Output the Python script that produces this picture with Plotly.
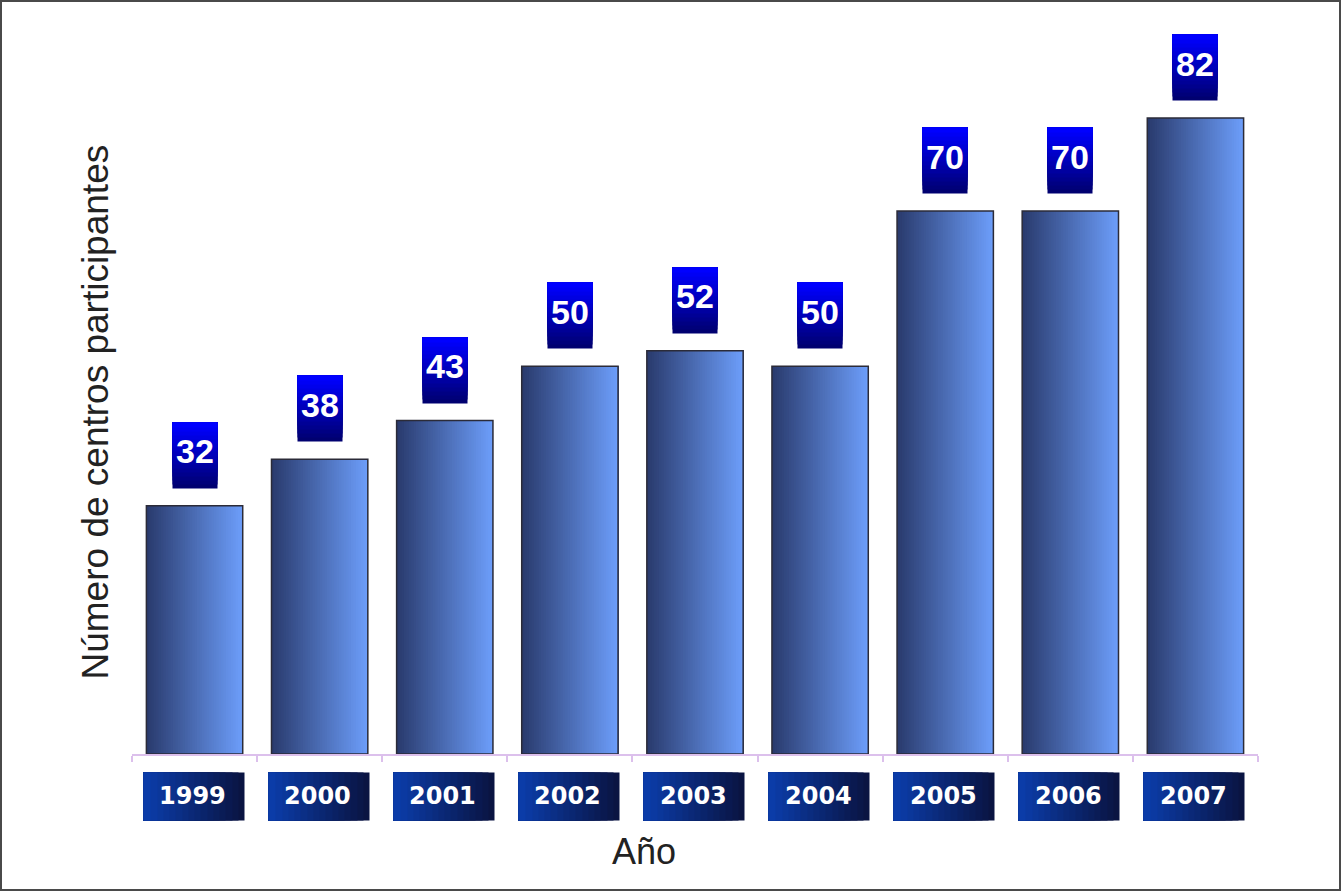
import plotly.graph_objects as go

years = ["1999", "2000", "2001", "2002", "2003", "2004", "2005", "2006", "2007"]
centros = [32, 38, 43, 50, 52, 50, 70, 70, 82]

y_title = "Número de centros participantes"
x_title = "Año"


def mix(c1, c2, t):
    a = [int(c1[i:i + 2], 16) for i in (1, 3, 5)]
    b = [int(c2[i:i + 2], 16) for i in (1, 3, 5)]
    return "rgb(%d,%d,%d)" % tuple(round(a[k] + (b[k] - a[k]) * t) for k in range(3))


W, H = 1341, 891
ml, mr, mt, mb = 132, 83, 56, 137
pw, ph = W - ml - mr, H - mt - mb

fig = go.Figure()

# bars: horizontal gradient, each layer runs from its start to the right edge of the bar
bw = 0.77
steps = 40
for i in range(steps):
    start = bw * i / steps
    fig.add_trace(go.Bar(x=years, y=centros, width=bw - start, offset=-bw / 2 + start,
                         marker_color=mix("#2a3b6e", "#6c9df9", i / (steps - 1)),
                         marker_line_width=0, showlegend=False, hoverinfo="skip"))

# outline over the layers
fig.add_trace(go.Bar(x=years, y=centros, width=bw, offset=-bw / 2, marker_color="rgba(0,0,0,0)",
                     marker_line=dict(color="#2b2b38", width=1.5), showlegend=False,
                     hovertemplate="%{x}: %{y}<extra></extra>"))

annotations = []
layers = 16

# value boxes above bars (vertical gradient, bright on top)
box_w, box_h, gap = 44, 65, 19
for i, v in enumerate(centros):
    for k in range(layers):
        annotations.append(dict(x=i, y=v, xref="x", yref="y", text=" ", showarrow=False,
                                font=dict(size=1), width=box_w, height=box_h * (layers - k) / layers,
                                bgcolor=mix("#000070", "#0000ff", k / (layers - 1)), borderpad=0,
                                xanchor="center", yanchor="top", yshift=gap + box_h))
    annotations.append(dict(x=i, y=v, xref="x", yref="y", text="<b>%d</b>" % v, showarrow=False,
                            font=dict(family="Liberation Sans, Arial", size=34, color="white"),
                            xanchor="center", yanchor="middle", yshift=gap + box_h / 2 + 3))

# year label boxes (horizontal gradient, lighter on the left)
lab_w, lab_h = 100, 47
for i, yr in enumerate(years):
    for k in range(layers):
        annotations.append(dict(x=i, y=0, xref="x", yref="paper", text=" ", showarrow=False,
                                font=dict(size=1), width=lab_w * (layers - k) / layers, height=lab_h,
                                bgcolor=mix("#0a1442", "#0b3ca8", k / (layers - 1)), borderpad=0,
                                xanchor="left", yanchor="middle", xshift=-lab_w / 2 - 2, yshift=-42))
    annotations.append(dict(x=i, y=0, xref="x", yref="paper", text="<b>%s</b>" % yr, showarrow=False,
                            font=dict(family="DejaVu Sans, Verdana", size=24, color="white"),
                            xanchor="center", yanchor="middle", xshift=-2, yshift=-42))

annotations.append(dict(x=0, y=0.5, xref="paper", yref="paper", text=y_title, showarrow=False,
                        textangle=-90, font=dict(family="Liberation Sans, Arial", size=37, color="#222"),
                        xanchor="right", yanchor="middle", xshift=-15, yshift=-7))
annotations.append(dict(x=0.455, y=0, xref="paper", yref="paper", text=x_title, showarrow=False,
                        font=dict(family="Liberation Sans, Arial", size=36, color="#222"),
                        xanchor="center", yanchor="middle", yshift=-97))

fig.update_layout(
    width=W, height=H,
    margin=dict(l=ml, r=mr, t=mt, b=mb),
    paper_bgcolor="white", plot_bgcolor="white",
    barmode="overlay",
    xaxis=dict(type="category", range=[-0.5, 8.5], showticklabels=False, showgrid=False,
               showline=True, linecolor="#dcc0ec", linewidth=2,
               ticks="outside", tickson="boundaries", ticklen=6, tickcolor="#dcc0ec", tickwidth=2),
    yaxis=dict(range=[0, 90], visible=False),
    annotations=annotations,
    shapes=[dict(type="rect", xref="paper", yref="paper",
                 x0=-ml / pw, x1=1 + mr / pw, y0=-mb / ph, y1=1 + mt / ph,
                 line=dict(color="#4a4a4a", width=4), fillcolor="rgba(0,0,0,0)")],
)

fig.write_html("out.html", config={"displayModeBar": False},
               post_script="document.body.style.margin='0';")
